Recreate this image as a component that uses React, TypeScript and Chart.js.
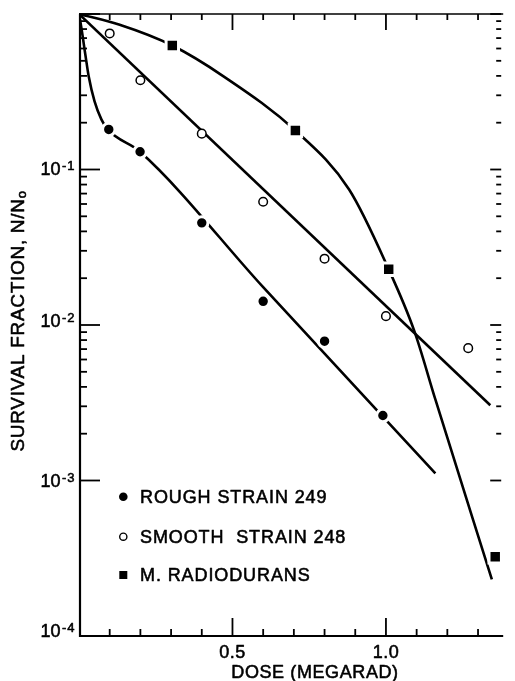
import React, { useEffect, useRef } from "react";
import { Chart, registerables } from "chart.js";

Chart.register(...registerables);

// ---- measured points ----
const roughDose = [0.097, 0.199, 0.4, 0.6, 0.8, 0.99];
const roughSurvival = [0.181, 0.13, 0.0454, 0.0142, 0.00787, 0.00262];

const smoothDose = [0.1, 0.2, 0.4, 0.6, 0.8, 1.0, 1.268];
const smoothSurvival = [0.75, 0.375, 0.17, 0.062, 0.0267, 0.0114, 0.0071];

const radioDose = [0.304, 0.705, 1.009, 1.356];
const radioSurvival = [0.627, 0.178, 0.0228, 0.000323];

// ---- fitted curves ----
const roughFitDose = [0, 0.0086, 0.0206, 0.0317, 0.0507, 0.0729, 0.0935, 0.199, 0.6, 1.161];
const roughFitSurvival = [1, 0.795, 0.549, 0.396, 0.274, 0.21, 0.181, 0.13, 0.0175, 0.00111];

const smoothFitDose = [0, 1.34];
const smoothFitSurvival = [1, 0.00305];

const radioFitDose = [0, 0.13, 0.304, 0.472, 0.705, 0.88, 1.009, 1.092, 1.161, 1.345];
const radioFitSurvival = [1, 0.856, 0.627, 0.396, 0.178, 0.0744, 0.0228, 0.0092, 0.00332, 0.000231];

// ---- labels ----
const legendLabels = ["ROUGH STRAIN 249", "SMOOTH  STRAIN 248", "M. RADIODURANS"];
const yTickExponents = ["-1", "-2", "-3", "-4"];
const yTickValues = [1e-1, 1e-2, 1e-3, 1e-4];
const xTickValues = [0.5, 1.0];
const xTickLabels = ["0.5", "1.0"];
const xTitle = "DOSE (MEGARAD)";
const yTitle = "SURVIVAL FRACTION, N/N";
const yTitleSub = "o";

const FONT = '"Liberation Sans", Arial, Helvetica, sans-serif';

const pts = (xs: number[], ys: number[]) => xs.map((x, i) => ({ x, y: ys[i] }));

const drawText = (ctx: CanvasRenderingContext2D, s: string, x: number, y: number) => {
  ctx.fillText(s, x, y);
  ctx.strokeText(s, x, y);
};

const framePlugin = {
  id: "frame",
  beforeDatasetsDraw(chart: any) {
    const { ctx, chartArea: a, scales } = chart;
    const xs = scales.x;
    const ys = scales.y;
    ctx.save();
    ctx.strokeStyle = "#000";
    ctx.lineCap = "butt";
    const seg = (x1: number, y1: number, x2: number, y2: number) => {
      ctx.beginPath();
      ctx.moveTo(x1, y1);
      ctx.lineTo(x2, y2);
      ctx.stroke();
    };
    // axis lines
    ctx.lineWidth = 2.2;
    seg(a.left + 1, a.top, a.left + 1, a.bottom + 1);
    seg(a.left, a.bottom, a.right, a.bottom);
    ctx.lineWidth = 1.6;
    seg(a.left, a.top, a.right, a.top);

    // y ticks (log)
    ctx.lineWidth = 1.8;
    for (let e = 0; e >= -4; e--) {
      for (let m = 1; m <= 9; m++) {
        if (e === -4 && m > 1) break;
        const v = m * Math.pow(10, e);
        if (v > 1) continue;
        const py = ys.getPixelForValue(v);
        const major = m === 1;
        seg(a.left, py, a.left + (major ? 21 : 8), py);
        seg(a.right - 2, py, a.right - 2 - (major ? 11 : 5), py);
      }
    }
    // x ticks
    for (let k = 1; k / 10 <= xs.max; k++) {
      const v = k / 10;
      const px = xs.getPixelForValue(v);
      const major = k % 5 === 0;
      seg(px, a.bottom, px, a.bottom - (major ? 18 : 7));
      seg(px, a.top, px, a.top + (major ? 16 : 6));
    }
    ctx.restore();
  },
  afterDraw(chart: any) {
    const { ctx, scales } = chart;
    const xs = scales.x;
    const ys = scales.y;
    ctx.save();
    ctx.fillStyle = "#000";
    ctx.strokeStyle = "#000";
    ctx.lineWidth = 0.55;
    ctx.lineJoin = "round";

    // y tick labels 10^-n
    const baseOffsets = [5, 2, 6, 1];
    yTickValues.forEach((v, i) => {
      const py = ys.getPixelForValue(v) + baseOffsets[i];
      ctx.font = `18px ${FONT}`;
      ctx.textAlign = "right";
      ctx.textBaseline = "alphabetic";
      (ctx as any).letterSpacing = "0px";
      drawText(ctx, "10", 60.5, py);
      ctx.font = `13px ${FONT}`;
      ctx.textAlign = "left";
      (ctx as any).letterSpacing = "1px";
      drawText(ctx, yTickExponents[i], 62, py - 5);
    });

    // x tick labels
    ctx.font = `18px ${FONT}`;
    (ctx as any).letterSpacing = "0.5px";
    ctx.textAlign = "center";
    ctx.textBaseline = "alphabetic";
    xTickValues.forEach((v, i) => {
      drawText(ctx, xTickLabels[i], xs.getPixelForValue(v), 658);
    });

    // x title
    ctx.font = `18px ${FONT}`;
    (ctx as any).letterSpacing = "0.6px";
    drawText(ctx, xTitle, 315, 678);

    // y title (rotated)
    ctx.save();
    ctx.translate(24, 321);
    ctx.rotate(-Math.PI / 2);
    ctx.font = `19px ${FONT}`;
    (ctx as any).letterSpacing = "0.7px";
    const w1 = ctx.measureText(yTitle).width;
    ctx.font = `13px ${FONT}`;
    const w2 = ctx.measureText(yTitleSub).width;
    const start = -(w1 + w2) / 2;
    ctx.textAlign = "left";
    ctx.font = `19px ${FONT}`;
    drawText(ctx, yTitle, start, 0);
    ctx.font = `13px ${FONT}`;
    drawText(ctx, yTitleSub, start + w1, 2);
    ctx.restore();

    // legend
    const rows = [496.7, 536.7, 575];
    const mx = 123.3;
    ctx.font = `18px ${FONT}`;
    (ctx as any).letterSpacing = "0.9px";
    ctx.textAlign = "left";
    ctx.textBaseline = "middle";
    legendLabels.forEach((lab, i) => {
      const y = rows[i];
      if (i === 0) {
        ctx.beginPath();
        ctx.arc(mx, y, 4.3, 0, Math.PI * 2);
        ctx.fill();
      } else if (i === 1) {
        ctx.save();
        ctx.beginPath();
        ctx.lineWidth = 1.4;
        ctx.arc(mx, y, 3.6, 0, Math.PI * 2);
        ctx.stroke();
        ctx.restore();
      } else {
        ctx.fillRect(mx - 4, y - 4, 8, 8);
      }
      drawText(ctx, lab, 140, y + 1);
    });
    ctx.restore();
  },
};

export default function App() {
  const ref = useRef<HTMLCanvasElement | null>(null);

  useEffect(() => {
    if (!ref.current) return;
    const fitStyle = {
      showLine: true,
      pointRadius: 0,
      pointHoverRadius: 0,
      borderColor: "#000",
      borderWidth: 2.6,
      backgroundColor: "transparent",
      fill: false,
      cubicInterpolationMode: "monotone" as const,
      order: 2,
    };
    const chart = new Chart(ref.current, {
      type: "scatter",
      data: {
        datasets: [
          {
            label: legendLabels[0],
            data: pts(roughDose, roughSurvival),
            pointStyle: "circle",
            pointRadius: 6.2,
            pointBackgroundColor: "#000",
            pointBorderColor: "#fff",
            pointBorderWidth: 3,
            order: 0,
          },
          {
            label: legendLabels[1],
            data: pts(smoothDose, smoothSurvival),
            pointStyle: "circle",
            pointRadius: 4.3,
            pointBackgroundColor: "#fff",
            pointBorderColor: "#000",
            pointBorderWidth: 1.5,
            order: 0,
          },
          {
            label: legendLabels[2],
            data: pts(radioDose, radioSurvival),
            pointStyle: "rect",
            pointRadius: 8.8,
            pointBackgroundColor: "#000",
            pointBorderColor: "#fff",
            pointBorderWidth: 3,
            order: 0,
          },
          { label: "rough fit", data: pts(roughFitDose, roughFitSurvival), ...fitStyle },
          { label: "smooth fit", data: pts(smoothFitDose, smoothFitSurvival), ...fitStyle, cubicInterpolationMode: "default" as const, tension: 0 },
          { label: "radiodurans fit", data: pts(radioFitDose, radioFitSurvival), ...fitStyle },
        ] as any,
      },
      options: {
        responsive: false,
        animation: false,
        events: [],
        layout: { padding: { left: 79, right: 0, top: 14, bottom: 45 } },
        plugins: {
          legend: { display: false },
          tooltip: { enabled: false },
        },
        scales: {
          x: { type: "linear", min: 0, max: 1.382, display: false },
          y: { type: "logarithmic", min: 1e-4, max: 1, display: false },
        },
      },
      plugins: [framePlugin],
    });
    return () => chart.destroy();
  }, []);

  return (
    <div style={{ position: "absolute", left: 0, top: 0, width: 515, height: 681, background: "#fff" }}>
      <canvas ref={ref} width={515} height={681} style={{ display: "block" }} />
    </div>
  );
}
